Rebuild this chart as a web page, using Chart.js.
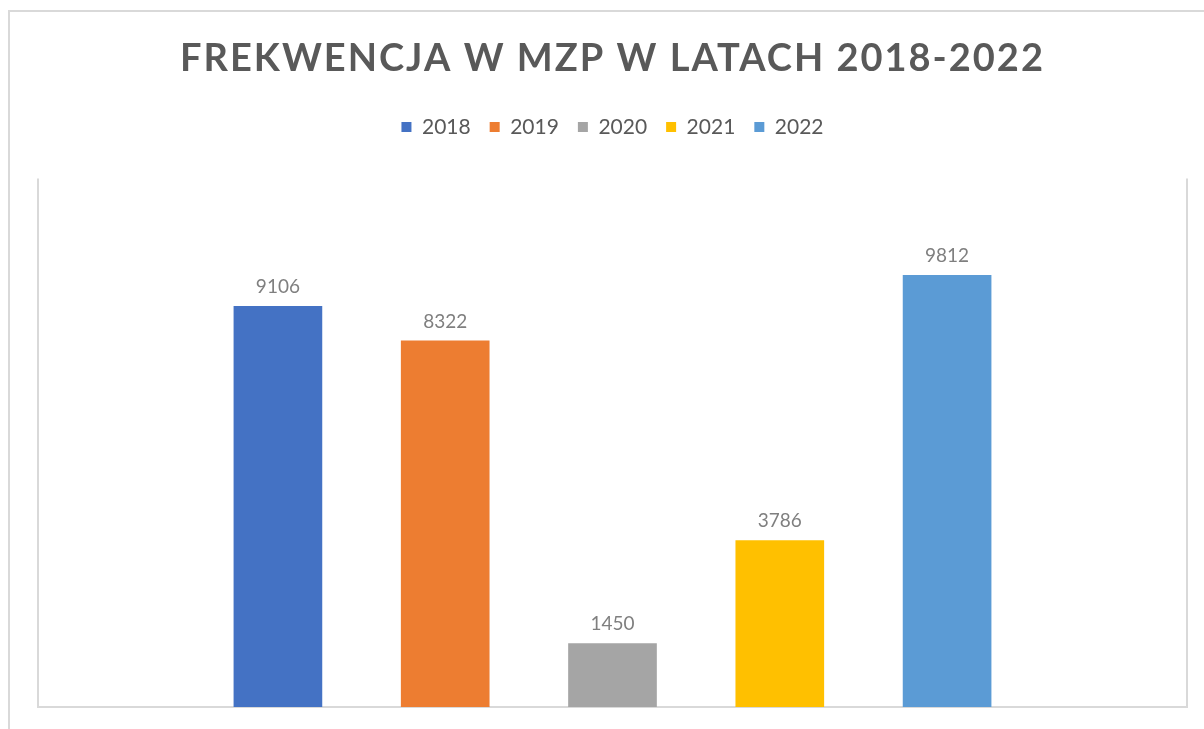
<!DOCTYPE html>
<html>
<head>
<meta charset="utf-8">
<script src="https://cdn.jsdelivr.net/npm/chart.js@4/dist/chart.umd.min.js"></script>
<style>
  html, body { margin: 0; padding: 0; background: #fff; overflow: hidden; }
  #ramka { position: absolute; left: 8px; top: 10px; width: 1400px; height: 900px;
           border-left: 2px solid #d9d9d9; border-top: 2px solid #d9d9d9; }
  #wykres { position: absolute; left: 0; top: 0; }
</style>
</head>
<body>
<div id="ramka"></div>
<canvas id="wykres" width="1204" height="729"></canvas>
<script>
// Dane
const lata = ['2018', '2019', '2020', '2021', '2022'];
const frekwencja = [9106, 8322, 1450, 3786, 9812];
const kolory = ['#4472C4', '#ED7D31', '#A5A5A5', '#FFC000', '#5B9BD5'];

// Tytuł z rozstrzelonymi literami
const rozstrzelenie = {
  id: 'rozstrzelenie',
  beforeDraw(chart) {
    const t = chart.titleBlock;
    if (t && !t._spaced) {
      const orig = t.draw.bind(t);
      t.draw = function () {
        chart.ctx.save();
        chart.ctx.letterSpacing = '2px';
        orig();
        chart.ctx.restore();
      };
      t._spaced = true;
    }
  }
};

// Ramka obszaru wykresu (lewa, prawa, dolna linia)
const ramkaWykresu = {
  id: 'ramkaWykresu',
  beforeDatasetsDraw(chart) {
    const { ctx, chartArea: a } = chart;
    ctx.save();
    ctx.strokeStyle = '#d9d9d9';
    ctx.lineWidth = 2;
    ctx.beginPath();
    ctx.moveTo(a.left, a.top);
    ctx.lineTo(a.left, a.bottom);
    ctx.lineTo(a.right, a.bottom);
    ctx.lineTo(a.right, a.top);
    ctx.stroke();
    ctx.restore();
  }
};

// Etykiety wartości nad słupkami
const etykiety = {
  id: 'etykiety',
  afterDatasetsDraw(chart) {
    const ctx = chart.ctx;
    ctx.save();
    ctx.font = '19px Lato';
    ctx.fillStyle = '#7f7f7f';
    ctx.textAlign = 'center';
    ctx.textBaseline = 'middle';
    chart.data.datasets.forEach((ds, i) => {
      chart.getDatasetMeta(i).data.forEach((bar, j) => {
        ctx.fillText(ds.data[j], bar.x, bar.y - 19);
      });
    });
    ctx.restore();
  }
};

const ctx = document.getElementById('wykres').getContext('2d');
new Chart(ctx, {
  type: 'bar',
  data: {
    labels: [''],
    datasets: lata.map((rok, i) => ({
      label: rok,
      data: [frekwencja[i]],
      backgroundColor: kolory[i],
      categoryPercentage: 0.728,
      barPercentage: 0.53
    }))
  },
  options: {
    responsive: false,
    animation: false,
    layout: { padding: { top: 0, left: 38, right: 17, bottom: 22 } },
    plugins: {
      title: {
        display: true,
        text: 'FREKWENCJA W MZP W LATACH 2018-2022',
        color: '#595959',
        font: { family: 'Lato', size: 38, weight: 'bold' },
        padding: { top: 36, bottom: 16 }
      },
      legend: {
        position: 'top',
        labels: {
          color: '#595959',
          font: { family: 'Lato', size: 21 },
          boxWidth: 10,
          boxHeight: 10,
          padding: 19
        }
      },
      tooltip: { enabled: false }
    },
    scales: {
      x: {
        position: 'top',
        grid: { display: false },
        border: { display: false },
        ticks: { display: false },
        afterFit(scale) { scale.height = 31; }
      },
      y: {
        display: false,
        min: 0,
        max: 12000
      }
    }
  },
  plugins: [rozstrzelenie, ramkaWykresu, etykiety]
});
</script>
</body>
</html>
